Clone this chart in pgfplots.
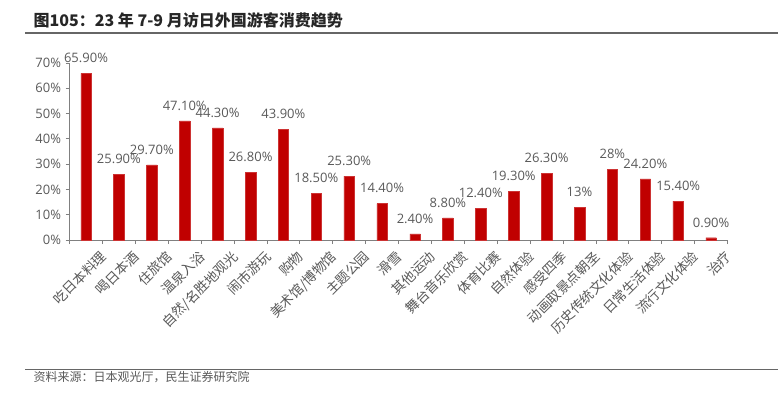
\documentclass[border=0pt]{standalone}
\usepackage{pgfplots}
\pgfplotsset{compat=1.18}
\usepackage{pgfplotstable}
\usepackage{fontspec}
\setmainfont{Open Sans}
\newfontfamily\cjk{Noto Sans CJK SC}
\definecolor{barred}{HTML}{C00000}
\definecolor{txtgray}{HTML}{595959}
\definecolor{axgray}{HTML}{808080}
\pgfplotstableread[col sep=comma]{
x,y,lab
0,65.9,65.90\%
1,25.9,25.90\%
2,29.7,29.70\%
3,47.1,47.10\%
4,44.3,44.30\%
5,26.8,26.80\%
6,43.9,43.90\%
7,18.5,18.50\%
8,25.3,25.30\%
9,14.4,14.40\%
10,2.4,2.40\%
11,8.8,8.80\%
12,12.4,12.40\%
13,19.3,19.30\%
14,26.3,26.30\%
15,13,13\%
16,28,28\%
17,24.2,24.20\%
18,15.4,15.40\%
19,0.9,0.90\%
}\datatable
\begin{document}
\begin{tikzpicture}[x=1pt,y=1pt]
\useasboundingbox (0,0) rectangle (778,-396);
\node[anchor=west,font=\cjk\fontsize{16}{18}\selectfont\bfseries,text=black!85] at (30,-20) {图105：23 年 7-9 月访日外国游客消费趋势};
\draw[black!60,line width=1.5pt] (25,-33) -- (778,-33);
\draw[black!60,line width=1pt] (25,-369) -- (778,-369);
\node[anchor=west,font=\cjk\fontsize{12}{14}\selectfont,text=txtgray] at (30,-377) {资料来源：日本观光厅，民生证券研究院};
\begin{axis}[
  at={(86pt,-240pt)}, anchor=origin,
  scale only axis, width=658pt, height=177pt,
  xmin=-0.5, xmax=19.5, ymin=0, ymax=70,
  axis lines=left, axis line style={-, axgray, line width=0.8pt},
  xtick={0,...,19},
  xticklabels={吃日本料理,喝日本酒,住旅馆,温泉入浴,自然/名胜地观光,闹市游玩,购物,美术馆/博物馆,主题公园,滑雪,其他运动,舞台音乐欣赏,体育比赛,自然体验,感受四季,动画取景点朝圣,历史传统文化体验,日常生活体验,流行文化体验,治疗},
  minor xtick={-0.5,0.5,...,19.5},
  major x tick style={draw=none},
  minor tick length=4pt,
  tick align=outside,
  tick style={axgray, line width=0.8pt},
  ytick={0,10,...,70},
  major tick length=4pt,
  yticklabel={\pgfmathprintnumber{\tick}\%},
  /pgf/number format/assume math mode=true,
  x tick label style={rotate=45, anchor=north east, inner sep=1pt, xshift=6.5pt, yshift=-12pt, font=\cjk\fontsize{13.5}{15}\selectfont, text=txtgray},
  y tick label style={font=\fontsize{13}{15}\selectfont, text=txtgray, xshift=-1pt},
  clip=false,
]
\addplot[ybar, bar width=10.5pt, fill=barred, draw=barred!80!white,
  nodes near coords, point meta=explicit symbolic,
  every node near coord/.append style={font=\fontsize{13}{15}\selectfont, text=txtgray, yshift=7pt}]
  table[x=x, y=y, meta=lab]{\datatable};
\end{axis}
\end{tikzpicture}
\end{document}
